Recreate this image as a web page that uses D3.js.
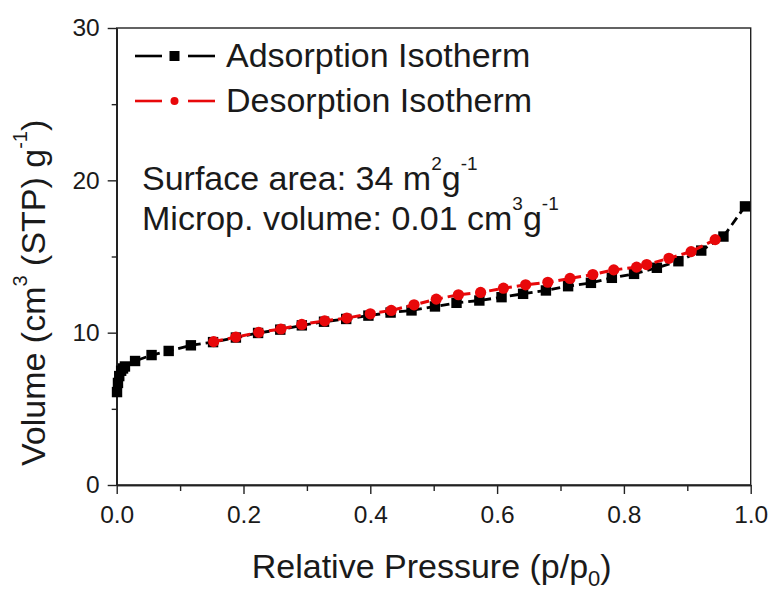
<!DOCTYPE html>
<html>
<head>
<meta charset="utf-8">
<script src="https://cdn.jsdelivr.net/npm/d3@7"></script>
<style>
  html, body { margin: 0; padding: 0; background: #fff; }
  svg { display: block; }
  text { font-family: "Liberation Sans", Arial, sans-serif; fill: #1a1a1a; }
</style>
</head>
<body>
<svg id="chart" width="774" height="590"></svg>
<script>
// ---- data ----
const adsPressure = [0.0005, 0.002, 0.004, 0.007, 0.010, 0.013, 0.029, 0.055, 0.082, 0.117, 0.152, 0.188, 0.223, 0.258, 0.292, 0.327, 0.362, 0.397, 0.432, 0.465, 0.502, 0.536, 0.572, 0.607, 0.641, 0.677, 0.712, 0.748, 0.781, 0.816, 0.852, 0.886, 0.922, 0.957, 0.991];
const adsVolume   = [6.1, 6.7, 7.15, 7.5, 7.65, 7.78, 8.14, 8.53, 8.80, 9.17, 9.38, 9.68, 9.98, 10.20, 10.48, 10.72, 10.90, 11.12, 11.32, 11.46, 11.72, 11.96, 12.11, 12.33, 12.55, 12.77, 13.05, 13.27, 13.60, 13.86, 14.26, 14.69, 15.39, 16.31, 18.29];
const desPressure = [0.944, 0.906, 0.871, 0.836, 0.820, 0.784, 0.751, 0.715, 0.680, 0.645, 0.610, 0.574, 0.539, 0.504, 0.469, 0.433, 0.400, 0.363, 0.328, 0.292, 0.259, 0.224, 0.188, 0.153];
const desVolume   = [16.11, 15.32, 14.88, 14.47, 14.30, 14.12, 13.82, 13.56, 13.31, 13.14, 12.92, 12.64, 12.49, 12.20, 11.83, 11.46, 11.24, 10.96, 10.78, 10.54, 10.24, 10.02, 9.71, 9.41];
const xTicks = [0.0, 0.2, 0.4, 0.6, 0.8, 1.0];
const xMinorTicks = [0.1, 0.3, 0.5, 0.7, 0.9];
const yTicks = [0, 10, 20, 30];
const yMinorTicks = [5, 15, 25];
const seriesNames = ["Adsorption Isotherm", "Desorption Isotherm"];
const seriesColors = ["#000000", "#e8080a"];

// ---- layout ----
const svg = d3.select("#chart");
const pL = 116.7, pR = 750.7, pT = 28, pB = 485;
const x = d3.scaleLinear().domain([0, 1]).range([pL, pR]);
const y = d3.scaleLinear().domain([0, 30]).range([pB, pT]);
const axisColor = "#222";

// frame
svg.append("rect")
  .attr("x", pL).attr("y", pT)
  .attr("width", pR - pL).attr("height", pB - pT)
  .attr("fill", "none").attr("stroke", axisColor).attr("stroke-width", 1.4);

// x axis
svg.append("g").attr("transform", `translate(0,${pB})`)
  .call(d3.axisBottom(x).tickValues(xTicks).tickFormat(d3.format(".1f")).tickSize(9).tickSizeOuter(0).tickPadding(12));
svg.append("g").attr("transform", `translate(0,${pB})`)
  .call(d3.axisBottom(x).tickValues(xMinorTicks).tickFormat("").tickSize(6).tickSizeOuter(0));
// y axis
svg.append("g").attr("transform", `translate(${pL},0)`)
  .call(d3.axisLeft(y).tickValues(yTicks).tickFormat(d3.format("d")).tickSize(9).tickSizeOuter(0).tickPadding(8));
svg.append("g").attr("transform", `translate(${pL},0)`)
  .call(d3.axisLeft(y).tickValues(yMinorTicks).tickFormat("").tickSize(5).tickSizeOuter(0));

svg.selectAll(".domain").attr("stroke", axisColor).attr("stroke-width", 1.4);
svg.selectAll(".tick line").attr("stroke", axisColor).attr("stroke-width", 1.4);
svg.selectAll(".tick text")
  .attr("font-family", "'Liberation Sans', Arial, sans-serif")
  .attr("font-size", 24.5).attr("fill", "#1a1a1a");

// axis titles
svg.append("text")
  .attr("x", (pL + pR) / 2 - 2).attr("y", 578)
  .attr("text-anchor", "middle").attr("font-size", 34)
  .call(t => {
    t.append("tspan").text("Relative Pressure (p/p");
    t.append("tspan").attr("font-size", 22).attr("dy", 8).text("0");
    t.append("tspan").attr("dy", -8).text(")");
  });

svg.append("text")
  .attr("transform", "translate(45,466) rotate(-90)")
  .attr("text-anchor", "start").attr("font-size", 34)
  .call(t => {
    t.append("tspan").text("Volume (cm");
    t.append("tspan").attr("font-size", 20).attr("dy", -18).text("3");
    t.append("tspan").attr("dy", 18).text(" (STP) g");
    t.append("tspan").attr("font-size", 20).attr("dy", -18).text("-1");
    t.append("tspan").attr("dy", 18).text(")");
  });

// ---- series ----
const ads = adsPressure.map((p, i) => [p, adsVolume[i]]);
const des = desPressure.map((p, i) => [p, desVolume[i]]);
const line = d3.line().x(d => x(d[0])).y(d => y(d[1]));

svg.append("path").datum(ads)
  .attr("d", line).attr("fill", "none")
  .attr("stroke", seriesColors[0]).attr("stroke-width", 2.8)
  .attr("stroke-dasharray", "9,5");
svg.append("g").selectAll("rect").data(ads).join("rect")
  .attr("x", d => x(d[0]) - 5.2).attr("y", d => y(d[1]) - 5.2)
  .attr("width", 10.4).attr("height", 10.4).attr("fill", seriesColors[0]);

svg.append("path").datum(des)
  .attr("d", line).attr("fill", "none")
  .attr("stroke", seriesColors[1]).attr("stroke-width", 3)
  .attr("stroke-dasharray", "9,5");
svg.append("g").selectAll("circle").data(des).join("circle")
  .attr("cx", d => x(d[0])).attr("cy", d => y(d[1]))
  .attr("r", 5.6).attr("fill", seriesColors[1]);

// ---- legend ----
const legendRows = [56, 101];
seriesNames.forEach((name, i) => {
  const ly = legendRows[i];
  const g = svg.append("g");
  g.append("line").attr("x1", 135).attr("x2", 162).attr("y1", ly).attr("y2", ly)
    .attr("stroke", seriesColors[i]).attr("stroke-width", 2.6);
  g.append("line").attr("x1", 188).attr("x2", 215).attr("y1", ly).attr("y2", ly)
    .attr("stroke", seriesColors[i]).attr("stroke-width", 2.6);
  if (i === 0) {
    g.append("rect").attr("x", 169.5).attr("y", ly - 5).attr("width", 10).attr("height", 10).attr("fill", seriesColors[i]);
  } else {
    g.append("circle").attr("cx", 174.5).attr("cy", ly).attr("r", 4).attr("fill", seriesColors[i]);
  }
  g.append("text").attr("x", 226).attr("y", ly + 11).attr("font-size", 34).text(name);
});

// ---- annotations ----
svg.append("text").attr("x", 142).attr("y", 190).attr("font-size", 34)
  .call(t => {
    t.append("tspan").text("Surface area: 34 m");
    t.append("tspan").attr("font-size", 19).attr("dy", -20).text("2");
    t.append("tspan").attr("dy", 20).text("g");
    t.append("tspan").attr("font-size", 19).attr("dy", -20).text("-1");
  });
svg.append("text").attr("x", 142).attr("y", 230).attr("font-size", 34)
  .call(t => {
    t.append("tspan").text("Microp. volume: 0.01 cm");
    t.append("tspan").attr("font-size", 19).attr("dy", -20).text("3");
    t.append("tspan").attr("dy", 20).text("g");
    t.append("tspan").attr("font-size", 19).attr("dy", -20).text("-1");
  });
</script>
</body>
</html>
